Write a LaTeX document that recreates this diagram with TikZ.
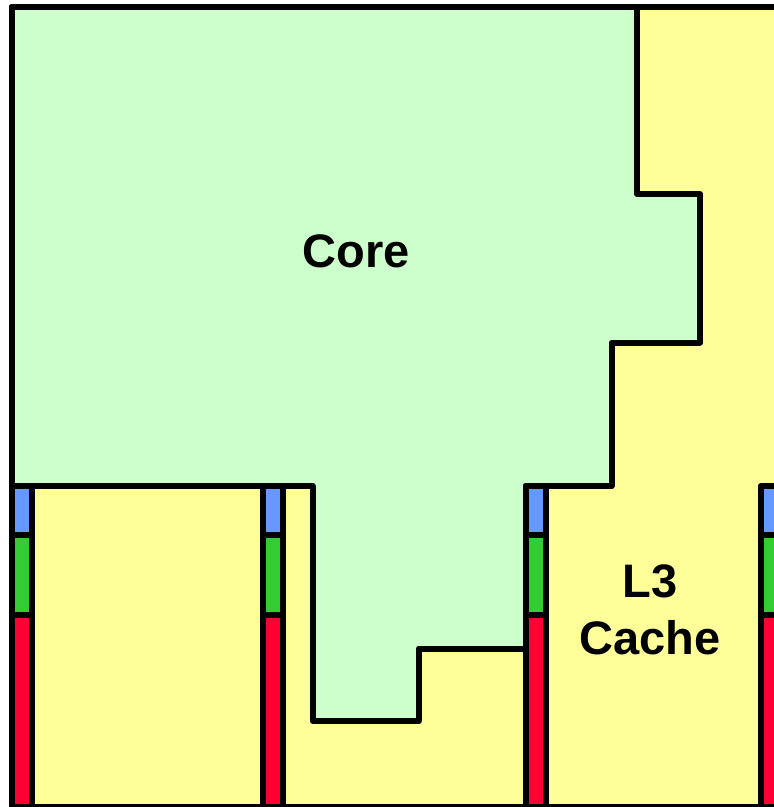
\documentclass[tikz,border=0pt]{standalone}
\usepackage{fontspec}
\setmainfont{Liberation Sans}
\definecolor{coregreen}{RGB}{204,255,204}
\definecolor{cacheyellow}{RGB}{255,255,153}
\definecolor{stripblue}{RGB}{102,153,255}
\definecolor{stripgreen}{RGB}{51,204,51}
\definecolor{stripred}{RGB}{255,0,51}
\tikzset{
  outline/.style={draw=black, line width=6pt, line join=round},
  labeltext/.style={font=\bfseries\fontsize{47}{57}\selectfont, align=center, inner sep=0pt}
}
\begin{document}
\begin{tikzpicture}[x=1pt,y=-1pt]
\useasboundingbox (0,0) rectangle (774,807);
\clip (0,0) rectangle (774,807);
\fill[white] (0,0) rectangle (774,807);
% cache background
\fill[cacheyellow] (11.5,7) rectangle (800,807);
% core region
\path[outline, fill=coregreen] (11.5,7) -- (637,7) -- (637,194) -- (700,194) -- (700,342.5)
  -- (611.5,342.5) -- (611.5,486) -- (525.5,486) -- (525.5,648.5) -- (418.5,648.5)
  -- (418.5,721) -- (312.5,721) -- (312.5,486) -- (11.5,486) -- cycle;
% strips
\foreach \sx in {11.5,262.5,525.5,760.5}{
  \fill[stripblue] (\sx,486) rectangle ({\sx+20.5},535);
  \fill[stripgreen] (\sx,535) rectangle ({\sx+20.5},615);
  \fill[stripred] (\sx,615) rectangle ({\sx+20.5},810);
  \path[outline] (\sx,486) rectangle ({\sx+20.5},830);
  \path[outline] (\sx,535) -- ({\sx+20.5},535);
  \path[outline] (\sx,615) -- ({\sx+20.5},615);
}
% outer border
\path[outline] (11.5,7) rectangle (800,807);
% labels
\node[labeltext] (core) at (356,251) {Core};
\node[labeltext] (l3) at (650,610) {L3\\Cache};
\end{tikzpicture}
\end{document}
